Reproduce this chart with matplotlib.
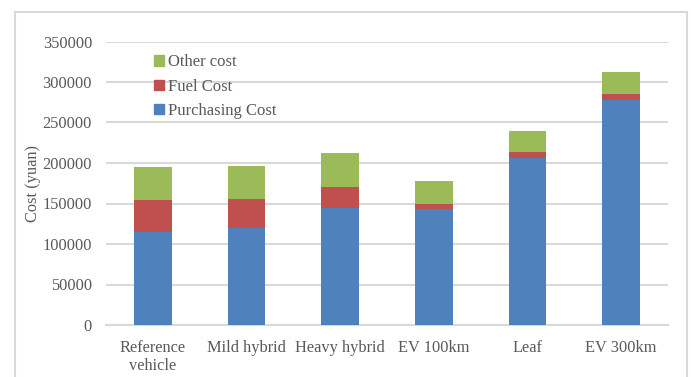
import numpy as np
import matplotlib
matplotlib.use('Agg')
import matplotlib.pyplot as plt
from matplotlib.patches import Rectangle, Patch

categories = ['Reference\nvehicle', 'Mild hybrid', 'Heavy hybrid', 'EV 100km', 'Leaf', 'EV 300km']
purchasing = [115000, 119500, 145000, 143000, 206500, 278000]
fuel = [39000, 35500, 25500, 6000, 6500, 7300]
other = [41000, 41500, 42000, 28500, 27000, 27000]

blue = '#4F81BD'
red = '#C0504D'
green = '#9BBB59'
txt = '#595959'

plt.rcParams['font.family'] = ['Liberation Serif', 'DejaVu Serif']

fig = plt.figure(figsize=(6.91, 3.77), dpi=100)
fig.patch.set_facecolor('white')

# chart border like the office chart frame
fig.patches.append(Rectangle((15/691, -0.01), 672/691, 1 - 12/377 + 0.01,
                             transform=fig.transFigure, fill=False,
                             edgecolor='#d9d9d9', linewidth=1.5))

ax = fig.add_axes([106/691, 1 - 325/377, 562/691, (325 - 41.5)/377])

x = np.arange(len(categories))
w = 0.405
p = np.array(purchasing)
f = np.array(fuel)
o = np.array(other)
ax.bar(x, p, w, color=blue, zorder=3)
ax.bar(x, f, w, bottom=p, color=red, zorder=3)
ax.bar(x, o, w, bottom=p + f, color=green, zorder=3)

ax.set_xlim(-0.5, len(categories) - 0.5)
ax.set_ylim(0, 350000)
ax.set_yticks(np.arange(0, 350001, 50000))
ax.yaxis.grid(True, color='#d9d9d9', linewidth=1.5, zorder=0)
ax.set_axisbelow(True)
for s in ['top', 'right', 'left']:
    ax.spines[s].set_visible(False)
ax.spines['bottom'].set_color('#d9d9d9')
ax.spines['bottom'].set_linewidth(1.5)
ax.tick_params(axis='both', length=0, labelsize=11.8, colors=txt)
ax.tick_params(axis='y', pad=10)
ax.tick_params(axis='x', pad=11)
ax.set_xticks(x)
ax.set_xticklabels(categories, linespacing=1.15)
ax.set_ylabel('Cost (yuan)', fontsize=11.8, color=txt, labelpad=1)

handles = [Patch(color=green), Patch(color=red), Patch(color=blue)]
labels = ['Other cost', 'Fuel Cost', 'Purchasing Cost']
leg = ax.legend(handles, labels, loc='upper left', bbox_to_anchor=(0.068, 0.99),
                frameon=False, fontsize=12, handlelength=0.6, handleheight=0.6,
                handletextpad=0.2, labelspacing=0.5, labelcolor=txt,
                borderaxespad=0.2)

fig.savefig('out.png', dpi=100)
